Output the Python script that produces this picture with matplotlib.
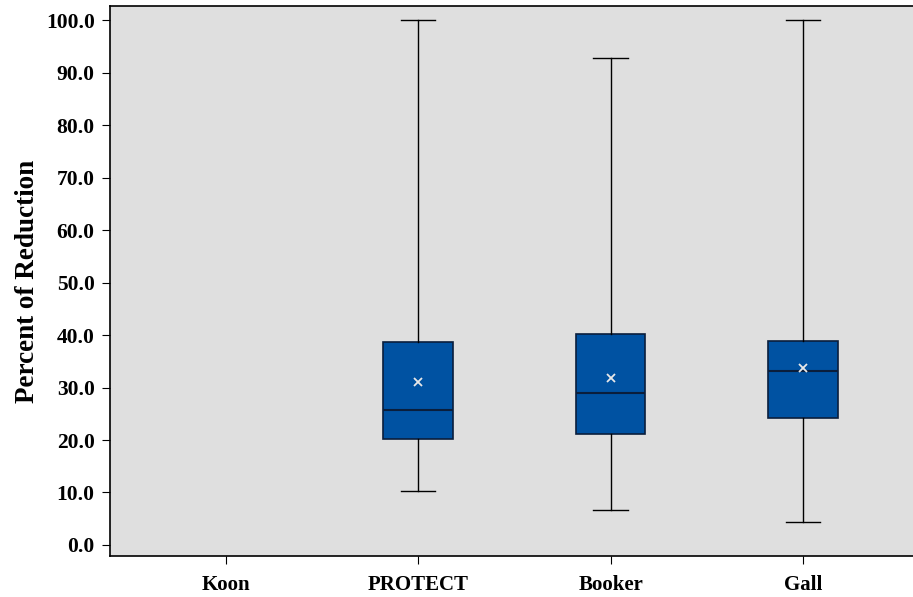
import matplotlib
matplotlib.use("Agg")
import matplotlib.pyplot as plt

categories = ["Koon", "PROTECT", "Booker", "Gall"]
whislo = [None, 10.3, 6.7, 4.4]
q1 = [None, 20.2, 21.1, 24.2]
med = [None, 25.7, 29.0, 33.1]
q3 = [None, 38.7, 40.2, 38.9]
whishi = [None, 100.0, 92.8, 100.0]
means = [None, 31.0, 31.8, 33.7]
yticks = [0, 10, 20, 30, 40, 50, 60, 70, 80, 90, 100]

plt.rcParams['font.family'] = ['Liberation Serif', 'DejaVu Serif']

fig = plt.figure(figsize=(9.13, 5.97), dpi=100)
ax = fig.add_axes([110 / 913, 41 / 597, 1 - 110 / 913 + 0.01, 550 / 597])
ax.set_facecolor('#dfdfdf')

stats = []
positions = []
for i, name in enumerate(categories):
    if q1[i] is None:
        continue
    stats.append(dict(label=name, whislo=whislo[i], q1=q1[i], med=med[i],
                      q3=q3[i], whishi=whishi[i], mean=means[i], fliers=[]))
    positions.append(i)

ax.bxp(stats, positions=positions, widths=0.36, patch_artist=True,
       showmeans=True, showfliers=False,
       boxprops=dict(facecolor='#0052a2', edgecolor='#0a1e3c', linewidth=1.2),
       medianprops=dict(color='#0a1e3c', linewidth=1.5),
       whiskerprops=dict(color='black', linewidth=1.0),
       capprops=dict(color='black', linewidth=1.0),
       capwidths=0.18,
       meanprops=dict(marker='x', markeredgecolor='#e8e8e8', markersize=6,
                      markeredgewidth=1.3))

ax.set_xticks(range(len(categories)))
ax.set_xticklabels(categories, fontsize=15, fontweight='bold')
ax.set_xlim(-0.6, 3.618)
ax.set_ylim(-2.1, 102.7)
ax.set_yticks(yticks)
ax.set_yticklabels(["%.1f" % v for v in yticks], fontsize=15.5, fontweight='bold')
ax.tick_params(axis='x', length=6, pad=8)
ax.tick_params(axis='y', length=6, pad=5)
ax.set_ylabel("Percent of Reduction", fontsize=19.5, fontweight='bold', labelpad=4)
for s in ['left', 'bottom', 'top']:
    ax.spines[s].set_linewidth(1.2)
ax.spines['right'].set_visible(False)

fig.savefig("out.png", dpi=100)
